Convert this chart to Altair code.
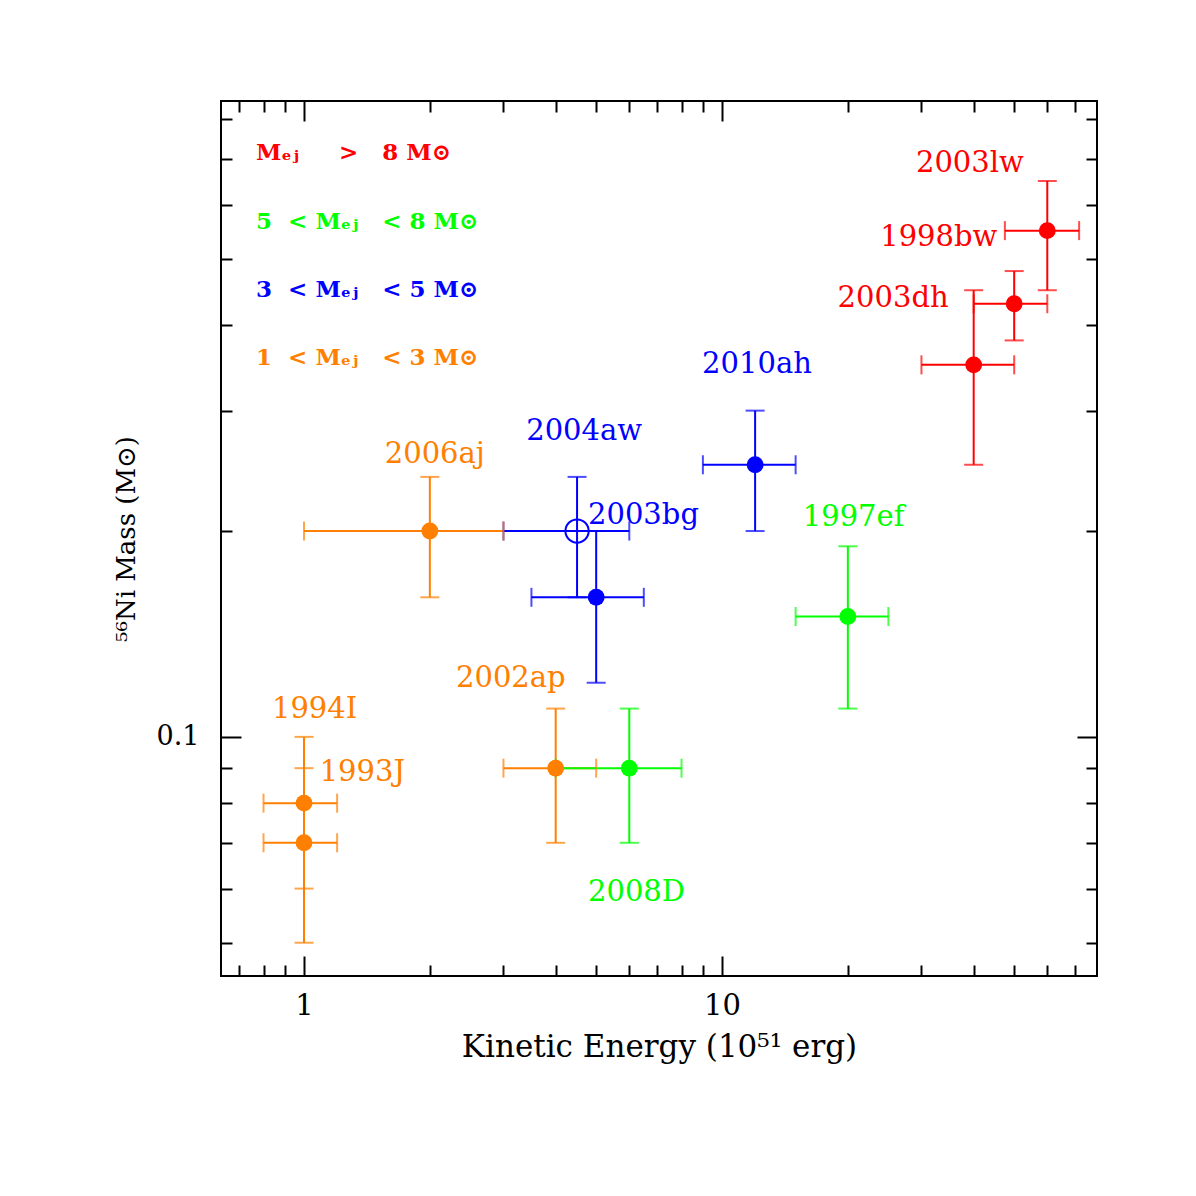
import altair as alt
import pandas as pd

# ---------------- data ----------------
names = ["1994I", "1993J", "2006aj", "2002ap", "2004aw", "2003bg",
         "2010ah", "1997ef", "2008D", "2003dh", "1998bw", "2003lw"]
groups = ["1-3", "1-3", "1-3", "1-3", "3-5", "3-5",
          "3-5", "5-8", "5-8", ">8", ">8", ">8"]
energy = [1, 1, 2, 4, 4.5, 5, 12, 20, 6, 40, 50, 60]
energy_lo = [0.8, 0.8, 1, 3, 3, 3.5, 9, 15, 4, 30, 40, 47.5]
energy_hi = [1.2, 1.2, 3, 5, 6, 6.5, 15, 25, 8, 50, 60, 71.5]
ni_mass = [0.08, 0.07, 0.2, 0.09, 0.2, 0.16, 0.25, 0.15, 0.09, 0.35, 0.43, 0.55]
ni_lo = [0.06, 0.05, 0.16, 0.07, 0.16, 0.12, 0.2, 0.11, 0.07, 0.25, 0.38, 0.45]
ni_hi = [0.1, 0.09, 0.24, 0.11, 0.24, 0.2, 0.3, 0.19, 0.11, 0.45, 0.48, 0.65]
filled = [True, True, True, True, False, True, True, True, True, True, True, True]
label_x = [0.838, 1.09, 1.56, 2.31, 3.40, 4.78, 8.96, 15.6, 4.78, 18.9, 23.9, 29.1]
label_y = [0.110, 0.0889, 0.259, 0.122, 0.280, 0.211, 0.351, 0.210, 0.0593, 0.438, 0.538, 0.691]

group_colors = {"1-3": "#ff8000", "3-5": "#0000ff", "5-8": "#00ff00", ">8": "#ff0000"}

S = "\u00a0"
legend_text = [
    "Mₑⱼ" + S * 5 + ">" + S * 3 + "8" + S + "M⊙",
    "5" + S * 2 + "<" + S + "Mₑⱼ" + S * 3 + "<" + S + "8" + S + "M⊙",
    "3" + S * 2 + "<" + S + "Mₑⱼ" + S * 3 + "<" + S + "5" + S + "M⊙",
    "1" + S * 2 + "<" + S + "Mₑⱼ" + S * 3 + "<" + S + "3" + S + "M⊙",
]
legend_group = [">8", "5-8", "3-5", "1-3"]
legend_x = [0.768, 0.768, 0.768, 0.768]
legend_y = [0.714, 0.566, 0.450, 0.358]

x_domain = [0.633, 78.9]
y_domain = [0.0447, 0.851]
x_major = [1, 10]
x_minor = [0.7, 0.8, 0.9, 2, 3, 4, 5, 6, 7, 8, 9, 20, 30, 40, 50, 60, 70]
y_major = [0.1]
y_minor = [0.05, 0.06, 0.07, 0.08, 0.09, 0.2, 0.3, 0.4, 0.5, 0.6, 0.7, 0.8]

df = pd.DataFrame({
    "name": names, "group": groups, "E": energy, "Elo": energy_lo, "Ehi": energy_hi,
    "M": ni_mass, "Mlo": ni_lo, "Mhi": ni_hi, "filled": filled,
    "lx": label_x, "ly": label_y,
})
df["color"] = df["group"].map(group_colors)
leg = pd.DataFrame({"text": legend_text, "group": legend_group, "x": legend_x, "y": legend_y})
leg["color"] = leg["group"].map(group_colors)

FONT = "DejaVu Serif"
xs = alt.Scale(type="log", domain=x_domain, nice=False)
ys = alt.Scale(type="log", domain=y_domain, nice=False)


def axis(orient, values, size, labels=False, title=None, **kw):
    return alt.Axis(orient=orient, values=values, tickSize=size, offset=-size,
                    domain=False, grid=False, labels=labels, title=title,
                    tickColor="black", tickWidth=2, **kw)


ax_bottom_major = axis("bottom", x_major, 20, labels=True, title="Kinetic Energy (10⁵¹ erg)",
                       format="~g", labelFont=FONT, labelFontSize=29, labelColor="black",
                       labelPadding=15, titleFont=FONT, titleFontSize=31,
                       titleFontWeight="normal", titleColor="black", titlePadding=12)
ax_left_major = axis("left", y_major, 20, labels=True, title="⁵⁶Ni Mass (M⊙)",
                     format="~g", labelFont=FONT, labelFontSize=27, labelColor="black",
                     labelPadding=22, titleFont=FONT, titleFontSize=26,
                     titleFontWeight="normal", titleColor="black", titlePadding=17)
ax_bottom_minor = axis("bottom", x_minor, 11)
ax_left_minor = axis("left", y_minor, 11)
ax_top_major = axis("top", x_major, 20)
ax_right_major = axis("right", y_major, 20)
ax_top_minor = axis("top", x_minor, 11)
ax_right_minor = axis("right", y_minor, 11)

base = alt.Chart(df)
col = alt.Color("color:N", scale=None)

vbars = base.mark_rule(strokeWidth=2).encode(
    x=alt.X("E:Q", scale=xs, axis=ax_bottom_major),
    y=alt.Y("Mlo:Q", scale=ys, axis=ax_left_major), y2="Mhi:Q", color=col)
hbars = base.mark_rule(strokeWidth=2).encode(
    x=alt.X("Elo:Q", scale=xs, axis=ax_bottom_minor), x2="Ehi:Q",
    y=alt.Y("M:Q", scale=ys, axis=ax_left_minor), color=col)
xcap_lo = base.mark_tick(orient="vertical", size=19, thickness=2).encode(
    x=alt.X("Elo:Q", scale=xs, axis=ax_top_major),
    y=alt.Y("M:Q", scale=ys, axis=ax_right_major), color=col)
xcap_hi = base.mark_tick(orient="vertical", size=19, thickness=2).encode(
    x=alt.X("Ehi:Q", scale=xs, axis=ax_top_minor),
    y=alt.Y("M:Q", scale=ys, axis=ax_right_minor), color=col)
ycap_lo = base.mark_tick(orient="horizontal", size=19, thickness=2).encode(
    x=alt.X("E:Q", scale=xs, axis=None),
    y=alt.Y("Mlo:Q", scale=ys, axis=None), color=col)
ycap_hi = base.mark_tick(orient="horizontal", size=19, thickness=2).encode(
    x=alt.X("E:Q", scale=xs, axis=None),
    y=alt.Y("Mhi:Q", scale=ys, axis=None), color=col)
pts_filled = base.transform_filter("datum.filled").mark_circle(size=285, opacity=1).encode(
    x=alt.X("E:Q", scale=xs, axis=None),
    y=alt.Y("M:Q", scale=ys, axis=None), color=col)
pts_open = base.transform_filter("!datum.filled").mark_point(
    shape="circle", size=540, filled=False, strokeWidth=2, opacity=1).encode(
    x=alt.X("E:Q", scale=xs, axis=None),
    y=alt.Y("M:Q", scale=ys, axis=None), color=col)
labels = base.mark_text(align="left", baseline="middle", font=FONT, fontSize=29).encode(
    x=alt.X("lx:Q", scale=xs, axis=None),
    y=alt.Y("ly:Q", scale=ys, axis=None), text="name:N", color=col)
legend = alt.Chart(leg).mark_text(align="left", baseline="middle", font=FONT,
                                  fontSize=23, fontWeight="bold").encode(
    x=alt.X("x:Q", scale=xs, axis=None),
    y=alt.Y("y:Q", scale=ys, axis=None), text="text:N", color=col)

chart = alt.layer(
    vbars, hbars, xcap_lo, xcap_hi, ycap_lo, ycap_hi, pts_filled, pts_open, labels, legend
).resolve_axis(x="independent", y="independent").properties(
    width=876, height=875,
    background="white",
    autosize=alt.AutoSizeParams(type="none"),
    padding={"left": 221, "top": 101, "right": 99, "bottom": 220},
).configure_view(stroke="black", strokeWidth=2)

chart.save("out.html", embed_options={"renderer": "svg", "actions": False})
